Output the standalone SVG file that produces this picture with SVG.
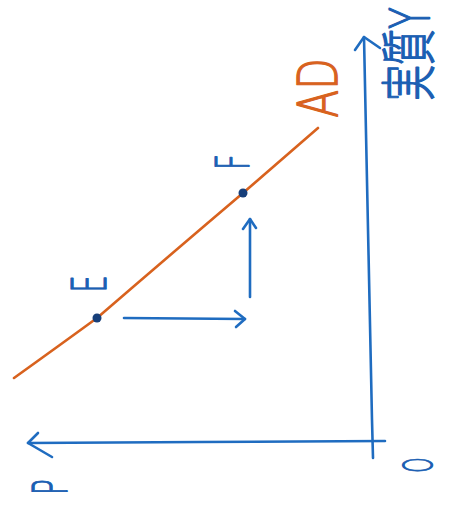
<svg xmlns="http://www.w3.org/2000/svg" width="449" height="514" viewBox="0 0 449 514">
<style>
.ax{fill:none;stroke:#1f6cc0;stroke-width:2.6;stroke-linecap:round;stroke-linejoin:round}
.ad{fill:none;stroke:#d8621e;stroke-width:2.6;stroke-linecap:round}
.lb{font-family:"DejaVu Sans","Noto Sans CJK JP",sans-serif;font-weight:200;fill:#1b5fb3;stroke:#1b5fb3;stroke-width:1.2;stroke-linejoin:round;text-anchor:middle;dominant-baseline:central}
.lo{font-family:"DejaVu Sans",sans-serif;font-weight:200;fill:#d8621e;stroke:#d8621e;stroke-width:1.2;stroke-linejoin:round;text-anchor:middle;dominant-baseline:central}
.dot{fill:#173f7a}
</style>
<rect width="449" height="514" fill="#ffffff"/>
<g id="connectors">
<path class="ax" d="M373 458 L372 420 L364 37"/>
<path class="ax" d="M355 50 L364 37 L380 48"/>
<path class="ax" d="M385 441 L200 442 L28 443"/>
<path class="ax" d="M38 433 L28 443 L52 457"/>
<path class="ax" d="M124 318 L245 319"/>
<path class="ax" d="M235 311 L245 319 L236 327"/>
<path class="ax" d="M250 297 L250 219"/>
<path class="ax" d="M243 229 L250 219 L256 228"/>
</g>
<g id="curve-AD">
<path class="ad" d="M14 378 Q60 345 97 318 Q170 255 243 193 L318 128"/>
<text class="lo" font-size="48" transform="translate(318,88) rotate(-90) scale(0.85,1.15)">AD</text>
</g>
<g id="point-E">
<circle class="dot" cx="97" cy="318" r="4.5"/>
<text class="lb" font-size="44" transform="translate(89,284) rotate(-90) scale(0.62,1.1)">E</text>
</g>
<g id="point-F">
<circle class="dot" cx="243" cy="193" r="4.5"/>
<text class="lb" font-size="44" transform="translate(233,162) rotate(-90) scale(0.63,1.05)">F</text>
</g>
<g id="label-Y">
<text class="lb" font-size="46" transform="translate(410,54) rotate(-90) scale(0.78,1.2)">実質Y</text>
</g>
<g id="label-P">
<text class="lb" font-size="40" transform="translate(50,487) rotate(-90) scale(0.64,1.2)">P</text>
</g>
<g id="label-O">
<text class="lb" font-size="36" transform="translate(418,465) rotate(-90) scale(0.54,1.1)">O</text>
</g>
</svg>
